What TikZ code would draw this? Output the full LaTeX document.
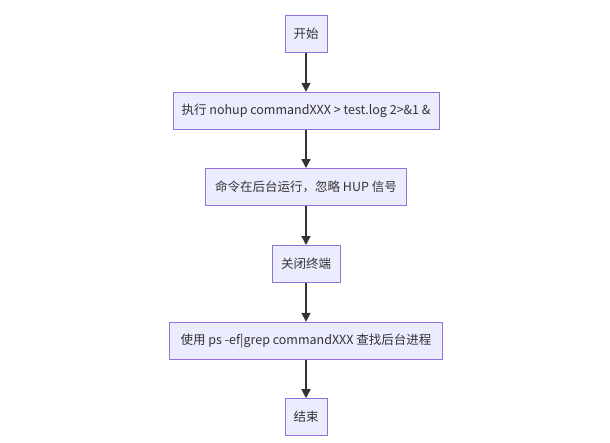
\documentclass[tikz,border=0pt]{standalone}
\usepackage{fontspec}
\setmainfont{Noto Sans CJK SC}
\usetikzlibrary{arrows.meta}
\definecolor{boxfill}{HTML}{ECECFF}
\definecolor{boxline}{HTML}{9370DB}
\definecolor{arrowc}{HTML}{333333}
\begin{document}
\begin{tikzpicture}[x=1pt,y=-1pt,
  box/.style={draw=boxline,fill=boxfill,line width=1pt,minimum height=37pt,inner sep=0pt,font=\fontsize{12.5pt}{14pt}\selectfont,text=black!80},
  conn/.style={draw=arrowc,line width=1.5pt,-{Triangle[length=9pt,width=9pt]}}]
\useasboundingbox (0,0) rectangle (610,442);
\node[box,minimum width=42pt] (a) at (306,33.7) {开始};
\node[box,minimum width=266pt] (b) at (306,110.8) {执行 nohup commandXXX > test.log 2>\&1 \&};
\node[box,minimum width=201pt] (c) at (306,187) {命令在后台运行，忽略 HUP 信号};
\node[box,minimum width=68pt] (d) at (306,264) {关闭终端};
\node[box,minimum width=273pt] (e) at (306,340.8) {使用 ps -ef|grep commandXXX 查找后台进程};
\node[box,minimum width=42pt] (f) at (306,417.2) {结束};
\draw[conn] (a) -- (b);
\draw[conn] (b) -- (c);
\draw[conn] (c) -- (d);
\draw[conn] (d) -- (e);
\draw[conn] (e) -- (f);
\end{tikzpicture}
\end{document}
